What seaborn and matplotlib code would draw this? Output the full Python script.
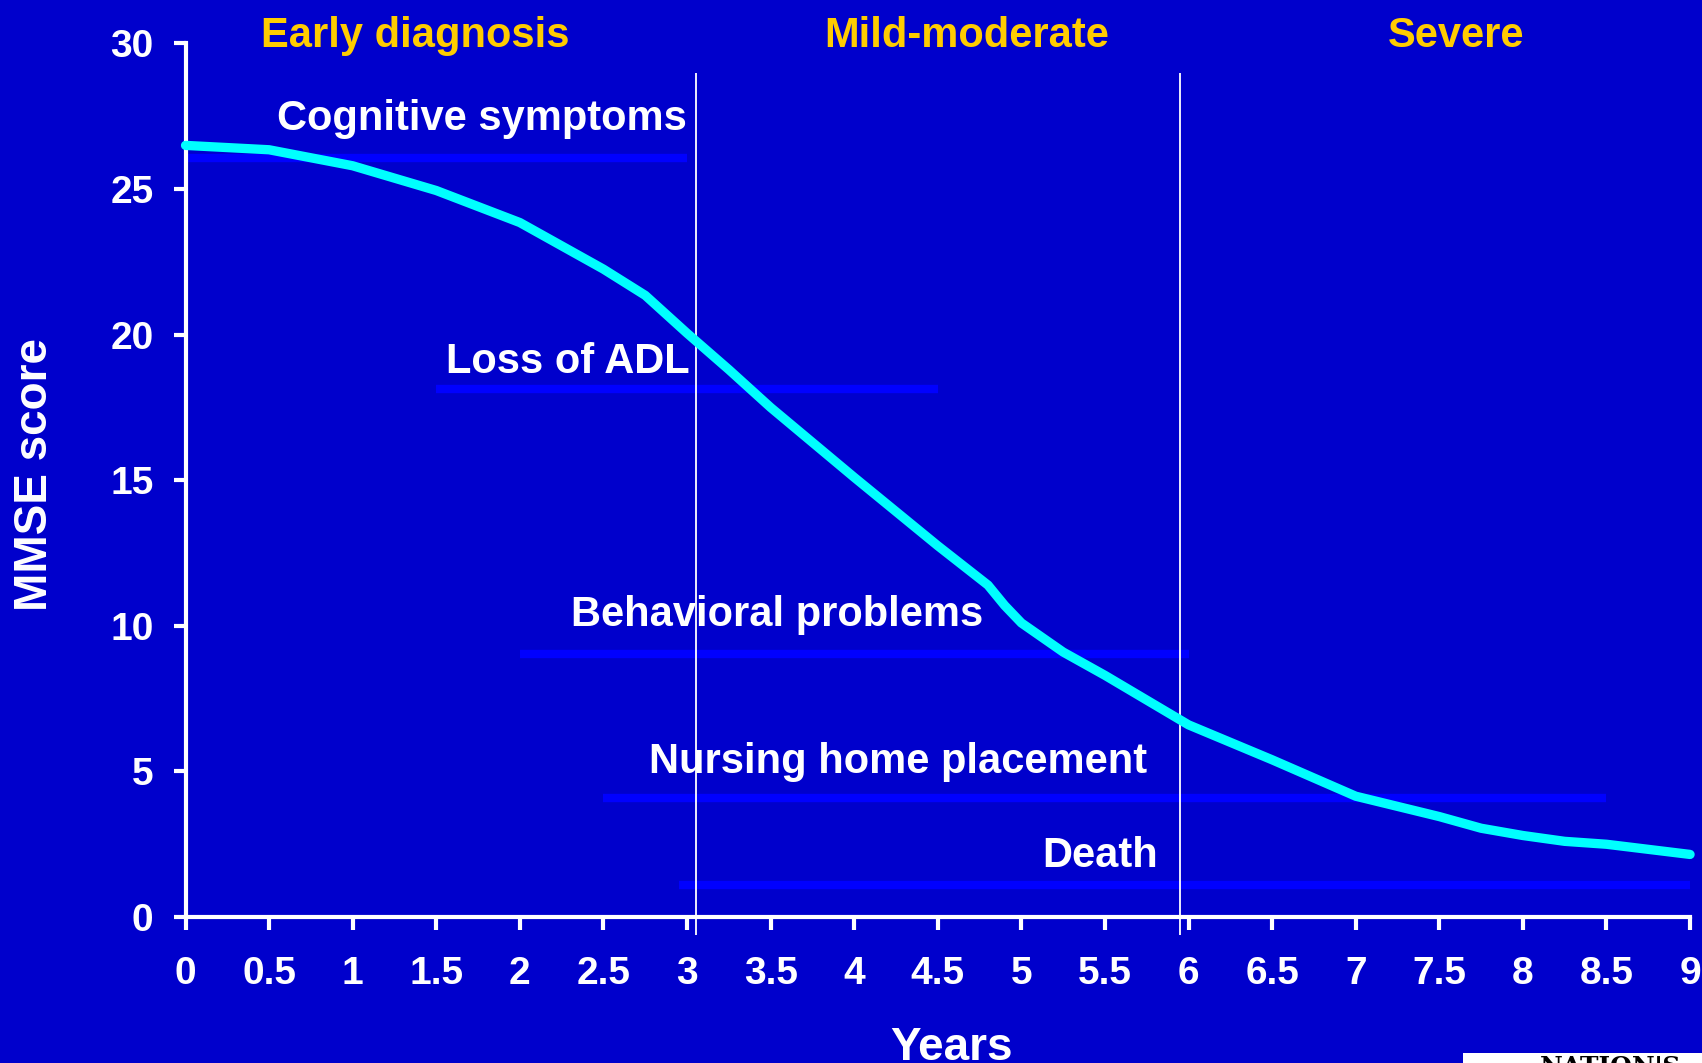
import pandas as pd
import seaborn as sns
import matplotlib.pyplot as plt
from matplotlib.patches import Rectangle

# MMSE decline curve
years = [0, 0.5, 1, 1.5, 2, 2.5, 2.75, 3, 3.25, 3.5, 4, 4.5, 4.8, 4.9, 5,
         5.25, 5.5, 6, 6.5, 7, 7.5, 7.75, 8, 8.25, 8.5, 9]
mmse = [26.5, 26.35, 25.8, 24.95, 23.85, 22.25, 21.35, 20.05, 18.8, 17.5, 15.1,
        12.75, 11.4, 10.7, 10.1, 9.1, 8.3, 6.6, 5.4, 4.15, 3.45, 3.05, 2.8, 2.6,
        2.5, 2.15]

# symptom bands (label, level, start year, end year)
band_labels = ["Cognitive symptoms", "Loss of ADL", "Behavioral problems",
               "Nursing home placement", "Death"]
band_level = [26.05, 18.15, 9.05, 4.1, 1.1]
band_start = [0, 1.5, 2.0, 2.5, 2.95]
band_end = [3.0, 4.5, 6.0, 8.5, 9.0]
label_right = [3.0, 3.015, 4.77, 5.75, 5.82]
label_base = [27.03, 18.68, 9.99, 4.96, 1.71]

# disease stages
stage_names = ["Early diagnosis", "Mild-moderate", "Severe"]
stage_center = [1.375, 4.67, 7.6]
stage_bounds = [3.055, 5.95]

x_ticks = [0, 0.5, 1, 1.5, 2, 2.5, 3, 3.5, 4, 4.5, 5, 5.5, 6, 6.5, 7, 7.5, 8, 8.5, 9]
x_ticklabels = ["0", "0.5", "1", "1.5", "2", "2.5", "3", "3.5", "4", "4.5", "5",
                "5.5", "6", "6.5", "7", "7.5", "8", "8.5", "9"]
y_ticks = [0, 5, 10, 15, 20, 25, 30]

BG = "#0000CC"
sns.set_theme(style="ticks")
plt.rcParams["font.family"] = ["Liberation Sans", "DejaVu Sans"]
plt.rcParams["font.weight"] = "bold"

fig = plt.figure(figsize=(17.02, 10.63), dpi=100, facecolor=BG)
ax = fig.add_axes([0.109, 0.1373, 0.884, 0.8218])
ax.set_facecolor(BG)

df = pd.DataFrame({"Years": years, "MMSE": mmse})

# bands
ax.hlines(band_level, band_start, band_end, color="#0000FF", linewidth=6, zorder=2)
for lab, xr, yb in zip(band_labels, label_right, label_base):
    ax.text(xr, yb, lab, ha="right", va="baseline", color="white",
            fontsize=30, fontweight="bold", zorder=4)

# stage dividers
ax.vlines(stage_bounds, -0.62, 29.0, color="white", linewidth=1.3, zorder=3, clip_on=False)
for name, xc in zip(stage_names, stage_center):
    ax.text(xc, 29.89, name, ha="center", va="baseline", color="#FFCC00",
            fontsize=30, fontweight="bold", clip_on=False)

sns.lineplot(data=df, x="Years", y="MMSE", ax=ax, color="#00FFFF", linewidth=6.7,
             zorder=5, clip_on=False)

ax.set_xlim(0, 9)
ax.set_ylim(0, 30)
ax.set_xticks(x_ticks)
ax.set_xticklabels(x_ticklabels)
ax.set_yticks(y_ticks)

for side in ["top", "right"]:
    ax.spines[side].set_visible(False)
for side in ["left", "bottom"]:
    ax.spines[side].set_color("white")
    ax.spines[side].set_linewidth(3)

ax.tick_params(axis="x", colors="white", length=9, width=3, pad=19, labelsize=28)
ax.tick_params(axis="y", colors="white", length=9, width=3, pad=14, labelsize=28)
for t in ax.get_xticklabels() + ax.get_yticklabels():
    t.set_fontweight("bold")

ax.set_xlabel("Years", color="white", fontsize=33, fontweight="bold", va="baseline")
ax.xaxis.set_label_coords(0.509, -0.164)
ax.set_ylabel("MMSE score", color="white", fontsize=33, fontweight="bold", va="center")
ax.yaxis.set_label_coords(-0.100, 0.507)

# corner logo strip
fig.patches.append(Rectangle((1463 / 1702, 0), 1 - 1463 / 1702, 10 / 1063,
                             transform=fig.transFigure, facecolor="white",
                             edgecolor="none", zorder=10))
fig.text(1540 / 1702, 1 - 1055 / 1063, "NATION'S", color="black", fontsize=18,
         family="DejaVu Serif", fontweight="bold", va="top", zorder=11)

fig.savefig("out.png", dpi=100, facecolor=BG)
